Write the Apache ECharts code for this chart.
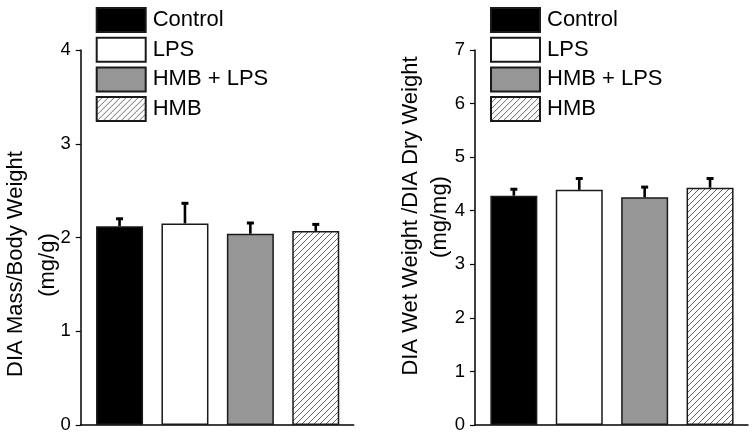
<!DOCTYPE html>
<html><head><meta charset="utf-8">
<script src="https://cdn.jsdelivr.net/npm/echarts@6/dist/echarts.min.js"></script>
<style>html,body{margin:0;padding:0;background:#fff}#c{width:756px;height:439px}</style>
</head><body><div id="c"></div>
<script>
const categories = ['Control', 'LPS', 'HMB + LPS', 'HMB'];
const massMean = [2.12, 2.15, 2.04, 2.07];
const massSE = [0.085, 0.22, 0.12, 0.075];
const ratioMean = [4.28, 4.39, 4.25, 4.43];
const ratioSE = [0.13, 0.22, 0.20, 0.18];
const massTicks = [0, 1, 2, 3, 4];
const ratioTicks = [0, 1, 2, 3, 4, 5, 6, 7];
const massTitle = ['DIA Mass/Body Weight', '(mg/g)'];
const ratioTitle = ['DIA Wet Weight /DIA Dry Weight', '(mg/mg)'];

const FONT = 'Liberation Sans, Arial, sans-serif';

function hatch() {
  const c = document.createElement('canvas');
  c.width = 6; c.height = 6;
  const g = c.getContext('2d');
  g.fillStyle = '#fff'; g.fillRect(0, 0, 6, 6);
  g.strokeStyle = '#555'; g.lineWidth = 0.9;
  g.beginPath();
  g.moveTo(0, 6); g.lineTo(6, 0);
  g.moveTo(-1, 1); g.lineTo(1, -1);
  g.moveTo(5, 7); g.lineTo(7, 5);
  g.stroke();
  return c;
}
const fills = ['#000000', '#ffffff', '#969696', { image: hatch(), repeat: 'repeat' }];

const panels = [
  { mean: massMean, se: massSE, ticks: massTicks, title: massTitle, left: 80.7, titleX: [16, 47.5], titleY: [264, 265] },
  { mean: ratioMean, se: ratioSE, ticks: ratioTicks, title: ratioTitle, left: 475, titleX: [411, 440], titleY: [216, 217] }
];

const grid = [], xAxis = [], yAxis = [], series = [], legend = [], graphic = [];
panels.forEach((p, g) => {
  grid.push({ left: p.left, top: 50, width: 273, height: 375 });
  xAxis.push({
    type: 'value', gridIndex: g, min: 0.406, max: 4.58,
    axisLine: { show: true, lineStyle: { color: '#000', width: 1.5 } },
    axisTick: { show: false }, axisLabel: { show: false }, splitLine: { show: false }
  });
  const tmax = p.ticks[p.ticks.length - 1];
  yAxis.push({
    type: 'value', gridIndex: g, min: p.ticks[0], max: tmax, interval: 1,
    axisLine: { show: true, lineStyle: { color: '#000', width: 1.5 } },
    axisTick: { show: true, length: 5, lineStyle: { color: '#000', width: 1.2 } },
    axisLabel: { color: '#000', fontSize: 18.5, fontFamily: FONT, margin: 10,
      formatter: v => p.ticks.includes(v) ? String(v) : '' },
    splitLine: { show: false }
  });
  categories.forEach((c, i) => {
    series.push({
      type: 'bar', name: c, xAxisIndex: g, yAxisIndex: g,
      barWidth: 47, barGap: '-100%',
      data: [[i + 1, p.mean[i]]],
      itemStyle: { color: fills[i], borderColor: '#1a1a1a', borderWidth: 1.5 },
      emphasis: { disabled: true }, animation: false
    });
  });
  series.push({
    type: 'custom', name: 'err' + g, xAxisIndex: g, yAxisIndex: g, z: 5,
    encode: { x: 0, y: 1 },
    data: p.mean.map((m, i) => [i + 1, m, p.se[i]]),
    renderItem: (params, api) => {
      const x = api.value(0), m = api.value(1), e = api.value(2);
      const p0 = api.coord([x, m]);
      const p1 = api.coord([x, m + e]);
      return { type: 'group', children: [
        { type: 'line', shape: { x1: p0[0], y1: p0[1], x2: p1[0], y2: p1[1] }, style: { stroke: '#000', lineWidth: 2.6 } },
        { type: 'rect', shape: { x: p1[0] - 3.5, y: p1[1] - 1, width: 7, height: 3 }, style: { fill: '#000' } }
      ]};
    },
    animation: false
  });
  legend.push({
    data: categories, orient: 'vertical', left: p.left + 15, top: 7,
    padding: 0, itemWidth: 49, itemHeight: 24, itemGap: 3.7, icon: 'rect',
    selectedMode: false,
    textStyle: { fontSize: 22, fontFamily: FONT, color: '#000', lineHeight: 24, padding: [0, 0, 0, 2] }
  });
  p.title.forEach((t, k) => {
    graphic.push({
      type: 'text', x: p.titleX[k], y: p.titleY[k], rotation: Math.PI / 2,
      style: { text: t, fontSize: 22, fontFamily: FONT, fill: '#000', align: 'center', verticalAlign: 'middle' }
    });
  });
});

const chart = echarts.init(document.getElementById('c'), null, { renderer: 'canvas' });
chart.setOption({ animation: false, backgroundColor: '#fff', grid, xAxis, yAxis, series, legend, graphic });
</script></body></html>
